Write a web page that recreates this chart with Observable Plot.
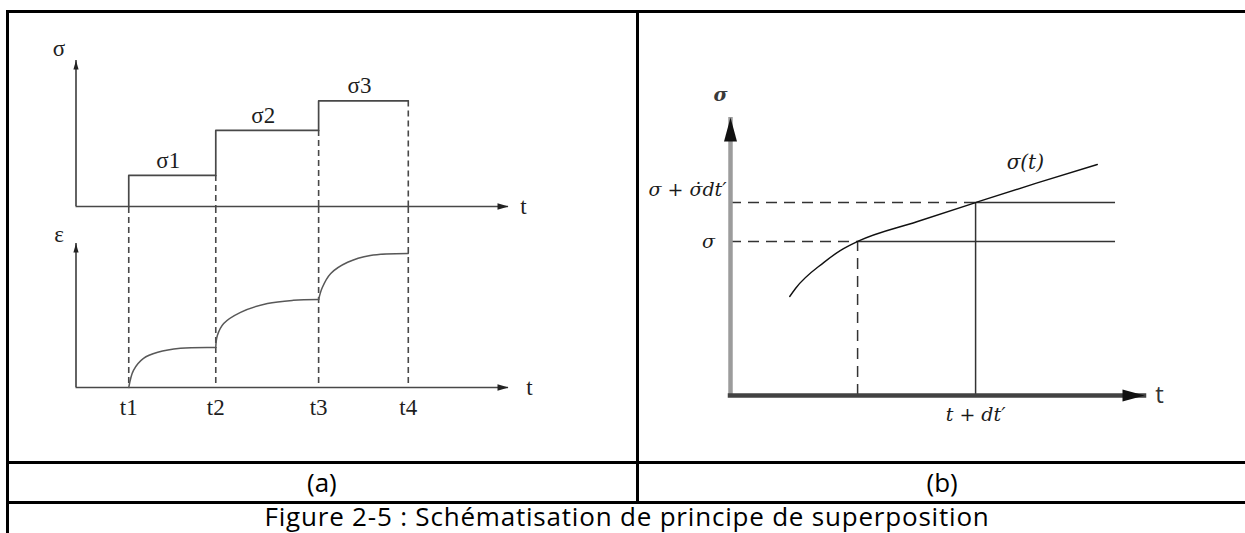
<!DOCTYPE html>
<html>
<head>
<meta charset="utf-8">
<script src="https://cdn.jsdelivr.net/npm/d3@7"></script>
<script src="https://cdn.jsdelivr.net/npm/@observablehq/plot@0.6"></script>
<style>
  body { margin: 0; background: #fff; }
  #fig { position: relative; width: 1245px; height: 533px; overflow: hidden; background: #fff; }
  .rule { position: absolute; background: #000; }
  .label { position: absolute; font-family: "Open Sans", Lato, sans-serif; color: #000; white-space: nowrap; line-height: 1; }
</style>
</head>
<body>
<div id="fig"></div>
<script>
// ---- (a) stepwise loading and the resulting creep strain ----
const loadTimes = [1, 2.65, 4.6, 6.3];          // t1 .. t4
const timeLabels = ["t1", "t2", "t3", "t4"];
const stressSteps = [1, 2.45, 3.4];             // σ1 .. σ3
const stepLabels = ["σ1", "σ2", "σ3"];
const timeAxisEnd = 8.2;
const stressAxisEnd = 4.7;
const strainAxisEnd = 3.6;
const strainFrameTop = 4.5;

// creep strain, one branch per load increment: [t, ε]
const strainBranch1 = [[1, 0], [1.09, 0.43], [1.28, 0.73], [1.55, 0.88], [1.98, 0.98], [2.65, 1.0]];
const strainBranch2 = [[2.65, 1.0], [2.68, 1.3], [2.8, 1.6], [3.12, 1.88], [3.63, 2.1], [4.12, 2.18], [4.6, 2.2]];
const strainBranch3 = [[4.6, 2.2], [4.67, 2.5], [4.83, 2.85], [5.15, 3.13], [5.58, 3.3], [6.3, 3.35]];

// ---- (b) continuous stress history σ(t) ----
const stressCurve = [[1.43, 3.56], [1.57, 3.85], [2.25, 4.78], [2.66, 5.22], [3.07, 5.54],
                     [4.5, 6.25], [5.92, 6.94], [7.39, 7.64], [8.86, 8.31]];
const instants = [3.07, 5.92];                   // t, t + dt'
const instantValues = [5.54, 6.94];              // σ, σ + σ̇dt'
const levelLabels = ["σ", "σ + σ̇dt′"];
const instantLabel = "t + dt′";
const curveLabel = "σ(t)";
const bAxisEnd = 10;
const bLevelEnd = 9.3;

// filled arrow heads; the tip sits on the data point
const headUp = (len, half) => ({ draw(ctx) { ctx.moveTo(0, 0); ctx.lineTo(half, len); ctx.lineTo(-half, len); ctx.closePath(); } });
const headRight = (len, half) => ({ draw(ctx) { ctx.moveTo(0, 0); ctx.lineTo(-len, half); ctx.lineTo(-len, -half); ctx.closePath(); } });

const fig = document.getElementById("fig");
function place(el, left, top) {
  el.style.position = "absolute";
  el.style.left = left + "px";
  el.style.top = top + "px";
  fig.appendChild(el);
  return el;
}

const serif = "'Liberation Serif', 'DejaVu Serif', serif";
const mathSerif = "'DejaVu Serif', 'Liberation Serif', serif";
const lineA = "#484848";
const inkA = "#1e1e1e";
const sizeA = 23;

// stress history: a staircase starting at t1
const stressPath = [{ t: loadTimes[0], s: 0 }]
  .concat(stressSteps.map((s, i) => ({ t: loadTimes[i], s })))
  .concat([{ t: loadTimes[3], s: stressSteps[2] }]);
const stepMid = stressSteps.map((s, i) => ({ t: (loadTimes[i] + loadTimes[i + 1]) / 2, s, label: stepLabels[i] }));
const dropFrom = loadTimes.slice(1).map((t, i) => ({ t, s: stressSteps[i] }));

const sigmaPlot = Plot.plot({
  width: 637, height: 207,
  marginLeft: 75.5, marginRight: 129, marginTop: 60, marginBottom: 1,
  x: { domain: [0, timeAxisEnd], axis: null },
  y: { domain: [0, stressAxisEnd], axis: null },
  style: { background: "none", overflow: "visible" },
  marks: [
    Plot.ruleX(dropFrom, { x: "t", y1: "s", y2: () => 0, stroke: lineA, strokeWidth: 1.6, strokeDasharray: "6,4" }),
    Plot.ruleY([0], { x1: () => 0, x2: () => timeAxisEnd, stroke: lineA, strokeWidth: 1.7 }),
    Plot.ruleX([0], { y1: () => 0, y2: () => stressAxisEnd, stroke: lineA, strokeWidth: 1.7 }),
    Plot.line(stressPath, { x: "t", y: "s", curve: "step-after", stroke: lineA, strokeWidth: 1.7 }),
    Plot.dot([0], { x: () => timeAxisEnd, y: () => 0, r: 1, symbol: headRight(11, 3.2), fill: "#222", stroke: "none" }),
    Plot.dot([0], { x: () => 0, y: () => stressAxisEnd, r: 1, symbol: headUp(9, 2.6), fill: "#222", stroke: "none" }),
    Plot.text(stepMid, { x: "t", y: "s", text: "label", dx: -4, dy: -15, fontFamily: serif, fontSize: sizeA, fill: inkA }),
    Plot.text(["σ"], { x: () => 0, y: () => stressAxisEnd, text: d => d, dx: -17, dy: -12, fontFamily: serif, fontSize: sizeA, fill: inkA }),
    Plot.text(["t"], { x: () => timeAxisEnd, y: () => 0, text: d => d, dx: 15, fontFamily: serif, fontSize: sizeA, fill: inkA })
  ]
});
place(sigmaPlot, 0, 0);

const branches = [strainBranch1, strainBranch2, strainBranch3]
  .flatMap((b, k) => b.map(([t, e]) => ({ t, e, k })));

const strainPlot = Plot.plot({
  width: 637, height: 230,
  marginLeft: 75.5, marginRight: 129, marginTop: 0, marginBottom: 50,
  x: { domain: [0, timeAxisEnd], axis: null },
  y: { domain: [0, strainFrameTop], axis: null },
  style: { background: "none", overflow: "visible" },
  marks: [
    Plot.ruleX(loadTimes, { y1: () => strainFrameTop, y2: () => 0, stroke: lineA, strokeWidth: 1.6, strokeDasharray: "6,4" }),
    Plot.ruleY([0], { x1: () => 0, x2: () => timeAxisEnd, stroke: lineA, strokeWidth: 1.7 }),
    Plot.ruleX([0], { y1: () => 0, y2: () => strainAxisEnd, stroke: lineA, strokeWidth: 1.7 }),
    Plot.line(branches, { x: "t", y: "e", z: "k", curve: "catmull-rom", stroke: "#585858", strokeWidth: 1.5 }),
    Plot.dot([0], { x: () => timeAxisEnd, y: () => 0, r: 1, symbol: headRight(11, 3.2), fill: "#222", stroke: "none" }),
    Plot.dot([0], { x: () => 0, y: () => strainAxisEnd, r: 1, symbol: headUp(9, 2.6), fill: "#222", stroke: "none" }),
    Plot.text(loadTimes, { x: d => d, y: () => 0, text: (d, i) => timeLabels[i], dy: 20, fontFamily: serif, fontSize: sizeA, fill: inkA }),
    Plot.text(["ε"], { x: () => 0, y: () => strainAxisEnd, text: d => d, dx: -17, dy: -9, fontFamily: serif, fontSize: sizeA, fill: inkA }),
    Plot.text(["t"], { x: () => timeAxisEnd, y: () => 0, text: d => d, dx: 21, fontFamily: serif, fontSize: sizeA, fill: inkA })
  ]
});
place(strainPlot, 0, 207);

// (b)
const ink = "#1a1a1a";
const lineB = "#333";
const curveEnd = stressCurve[stressCurve.length - 1];
const mathText = { fontFamily: mathSerif, fontStyle: "italic", fontSize: 19, fill: ink };

const historyPlot = Plot.plot({
  width: 608, height: 462,
  marginLeft: 93, marginRight: 101, marginTop: 117, marginBottom: 67,
  x: { domain: [0, bAxisEnd], axis: null },
  y: { domain: [0, bAxisEnd], axis: null },
  style: { background: "none", overflow: "visible" },
  marks: [
    Plot.ruleY(instantValues, { x1: () => 0, x2: (d, i) => instants[i], stroke: lineB, strokeWidth: 1.5, strokeDasharray: "11,7" }),
    Plot.ruleY(instantValues, { x1: (d, i) => instants[i], x2: () => bLevelEnd, stroke: lineB, strokeWidth: 1.5 }),
    Plot.ruleX([instants[0]], { y1: () => 0, y2: () => instantValues[0], stroke: lineB, strokeWidth: 1.5, strokeDasharray: "11,7" }),
    Plot.ruleX([instants[1]], { y1: () => 0, y2: () => instantValues[1], stroke: lineB, strokeWidth: 1.5 }),
    Plot.line(stressCurve, { x: d => d[0], y: d => d[1], curve: "monotone-x", stroke: "#111", strokeWidth: 1.4 }),
    Plot.ruleX([0], { y1: () => 0, y2: () => bAxisEnd, stroke: "#9c9c9c", strokeWidth: 4.5 }),
    Plot.ruleY([0], { x1: () => 0, x2: () => bAxisEnd, stroke: "#424242", strokeWidth: 4.5, strokeLinecap: "square" }),
    Plot.dot([0], { x: () => 0, y: () => bAxisEnd, r: 1, symbol: headUp(24, 6.5), fill: "#111", stroke: "none" }),
    Plot.dot([0], { x: () => bAxisEnd, y: () => 0, r: 1, symbol: headRight(22, 6), fill: "#111", stroke: "none" }),
    Plot.text(["σ"], { x: () => 0, y: () => bAxisEnd, text: d => d, dx: -10, dy: -23, ...mathText, fontWeight: "bold", fill: "#3a3a3a" }),
    Plot.text([levelLabels[0]], { x: () => 0, y: () => instantValues[0], text: d => d, dx: -22, ...mathText }),
    Plot.text([levelLabels[1]], { x: () => 0, y: () => instantValues[1], text: d => d, textAnchor: "end", dx: -4, dy: -13, ...mathText }),
    Plot.text([curveLabel], { x: () => curveEnd[0], y: () => curveEnd[1], text: d => d, dx: -72, dy: -2, ...mathText, fontSize: 20 }),
    Plot.text([instantLabel], { x: () => instants[1], y: () => 0, text: d => d, dy: 19, ...mathText }),
    Plot.text(["t"], { x: () => bAxisEnd, y: () => 0, text: d => d, dx: 15, fontFamily: "'Open Sans', Lato, sans-serif", fontSize: 24, fill: "#333" })
  ]
});
place(historyPlot, 637, 0);

// table frame around the two panels
function rule(left, top, width, height) {
  const d = document.createElement("div");
  d.className = "rule";
  Object.assign(d.style, { left: left + "px", top: top + "px", width: width + "px", height: height + "px" });
  fig.appendChild(d);
}
rule(6, 10, 1239, 3);
rule(6, 10, 3, 523);
rule(636, 10, 3, 493);
rule(6, 461, 1239, 3);
rule(6, 501, 1239, 3);

function label(text, cx, top, size, spacing = 0) {
  const d = document.createElement("div");
  d.className = "label";
  d.textContent = text;
  d.style.fontSize = size + "px";
  d.style.letterSpacing = spacing + "px";
  d.style.top = top + "px";
  fig.appendChild(d);
  d.style.left = (cx - d.offsetWidth / 2) + "px";
  return d;
}
label("(a)", 322, 469, 26);
label("(b)", 942, 469, 26);
label("Figure 2-5 : Schématisation de principe de superposition", 627, 503, 26, 0.8);
</script>
</body>
</html>
